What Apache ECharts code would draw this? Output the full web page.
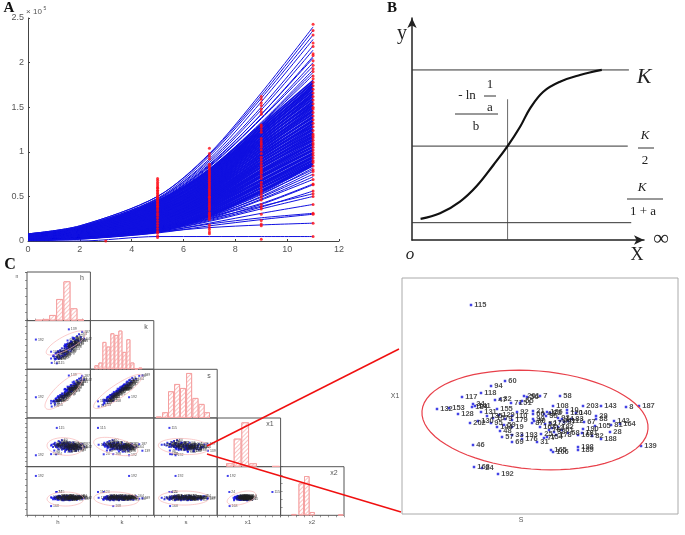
<!DOCTYPE html>
<html>
<head>
<meta charset="utf-8">
<script src="https://cdn.jsdelivr.net/npm/echarts@6/dist/echarts.min.js"></script>
<style>
html, body { margin: 0; padding: 0; background: #fff; }
#chart { width: 685px; height: 535px; }
#chart canvas { filter: blur(0.35px); }
</style>
</head>
<body>
<div id="chart"></div>
<script>
// Panel A: fitted growth curves, values x 10^5
var curveYears = [0, 2, 5, 7, 9, 11];
var growthCurves = [
    [.08,.17,.5,.98,1.66,2.4],[.08,.17,.5,.97,1.63,2.36],[.07,.16,.48,.95,1.6,2.31],[.08,.16,.47,.92,1.56,2.26],
    [.07,.16,.47,.9,1.5,2.19],[.07,.15,.46,.88,1.47,2.14],[.07,.15,.45,.86,1.42,2.07],[.07,.15,.44,.85,1.42,2.05],
    [.07,.15,.45,.84,1.38,2],[.07,.14,.43,.83,1.37,1.96],[.07,.14,.42,.81,1.33,1.92],[.07,.14,.43,.81,1.32,1.89],
    [.06,.14,.41,.8,1.31,1.86],
    [.07,.14,.45,.8,1.3,1.8],[.07,.14,.44,.79,1.27,1.78],[.06,.13,.43,.77,1.28,1.77],[.07,.13,.42,.78,1.25,1.75],
    [.06,.13,.44,.76,1.24,1.74],[.06,.13,.41,.75,1.25,1.72],[.07,.13,.42,.76,1.22,1.71],[.06,.12,.4,.74,1.21,1.69],
    [.06,.13,.41,.72,1.22,1.68],[.06,.12,.39,.73,1.19,1.66],[.05,.12,.4,.71,1.18,1.65],[.06,.12,.38,.7,1.19,1.63],
    [.06,.12,.39,.71,1.16,1.62],[.05,.11,.37,.69,1.15,1.6],[.06,.12,.38,.68,1.16,1.59],[.05,.11,.36,.69,1.13,1.57],
    [.05,.11,.37,.67,1.12,1.56],[.06,.11,.35,.66,1.13,1.54],[.05,.11,.36,.67,1.1,1.53],[.05,.1,.34,.65,1.09,1.52],
    [.05,.11,.35,.64,1.1,1.5],[.05,.1,.33,.63,1.07,1.49],[.05,.1,.34,.64,1.06,1.47],[.04,.1,.32,.62,1.07,1.46],
    [.05,.1,.33,.61,1.04,1.45],[.05,.09,.31,.62,1.03,1.43],[.04,.1,.32,.6,1.04,1.42],[.05,.09,.3,.59,1.01,1.4],
    [.04,.09,.31,.6,1,1.39],[.04,.09,.29,.58,1.01,1.38],[.05,.09,.3,.57,.98,1.36],[.04,.08,.28,.58,.97,1.35],
    [.04,.09,.29,.56,.98,1.34],[.04,.08,.27,.55,.95,1.32],[.04,.08,.28,.56,.94,1.31],[.03,.08,.26,.54,.95,1.29],
    [.04,.08,.27,.53,.92,1.28],[.04,.07,.25,.52,.91,1.26],[.03,.08,.26,.53,.92,1.25],[.04,.07,.24,.51,.89,1.24],
    [.03,.07,.25,.5,.88,1.22],[.03,.07,.23,.51,.89,1.21],[.04,.07,.24,.49,.86,1.2],[.03,.06,.22,.48,.85,1.18],
    [.03,.07,.23,.49,.86,1.17],[.03,.06,.21,.47,.83,1.16],[.03,.06,.22,.46,.82,1.14],[.03,.06,.2,.47,.83,1.13],
    [.03,.06,.21,.45,.8,1.12],[.02,.06,.19,.44,.79,1.1],[.03,.05,.2,.45,.78,1.09],[.03,.06,.18,.43,.77,1.08],
    [.02,.05,.19,.42,.76,1.06],[.03,.05,.17,.41,.74,1.05],[.02,.05,.18,.42,.73,1.03],[.02,.05,.16,.4,.72,1.02],
    [.03,.04,.17,.39,.71,1.01],[.02,.05,.15,.38,.69,.99],[.02,.04,.16,.39,.68,.98],[.02,.04,.14,.37,.67,.97],
    [.02,.04,.15,.36,.65,.95],[.02,.04,.13,.35,.64,.94],[.02,.04,.14,.34,.63,.93],[.02,.03,.13,.33,.62,.91],
    [.01,.03,.12,.32,.6,.9],[.02,.03,.12,.31,.59,.88],[.01,.03,.11,.3,.57,.87],[.02,.03,.11,.29,.56,.86],
    [.01,.03,.1,.28,.55,.85],
    [.01,.03,.15,.3,.54,.84],[.02,.03,.14,.29,.52,.82],[.01,.03,.13,.28,.53,.8],[.01,.03,.14,.27,.5,.78],
    [.01,.03,.13,.28,.49,.75],[.01,.03,.12,.26,.47,.72],[.01,.03,.12,.25,.46,.69],[.01,.03,.11,.27,.42,.64],
    [.01,.03,.12,.24,.41,.63],[.01,.03,.11,.23,.38,.56],[.01,.03,.12,.25,.39,.53],[.01,.03,.11,.22,.36,.5],
    [.01,.03,.1,.2,.31,.41],[.01,.03,.1,.19,.26,.31],[.01,.02,.09,.17,.24,.3],[.01,.02,.1,.15,.18,.2],
    [0,0,.05,.05,.05,.05]
];
// Panel A: observed values (red) per year
var obsYears = [5, 7, 9, 11];
var obsAt5 = [.04,.06,.09,.11,.14,.17,.2,.23,.26,.29,.31,.34,.36,.38,.39,.41,.42,.44,.45,.47,.48,.5,.51,.53,.54,.56,.57,.59,.6,.62,.64,.66,.68,.7];
var obsAt7 = [.08,.1,.13,.15,.18,.24,.26,.28,.3,.32,.35,.37,.39,.41,.43,.45,.47,.49,.5,.52,.54,.56,.58,.6,.62,.64,.66,.68,.7,.72,.74,.76,.78,.8,.82,.84,.86,.92,.95,.98,1.04];
var obsAt9 = [.02,.17,.19,.23,.3,.36,.38,.41,.46,.49,.52,.55,.57,.6,.63,.66,.7,.73,.76,.78,.8,.82,.85,.88,.91,.94,.98,1.02,1.05,1.08,1.1,1.12,1.15,1.22,1.25,1.28,1.3,1.42,1.45,1.48,1.52,1.55,1.59,1.62];
var obsAt11 = [.05,.2,.3,.31,.41,.5,.53,.56,.63,.64,.69,.74,.78,.8,.84,.88,.9,.93,.96,.99,1.02,1.05,1.08,1.1,1.13,1.16,1.18,1.2,1.24,1.28,1.32,1.36,1.4,1.44,1.48,1.5,1.54,1.58,1.62,1.66,1.7,1.74,1.78,1.82,1.85,1.9,1.93,1.97,2.02,2.08,2.1,2.18,2.22,2.31,2.36,2.43];
var obsExtra = [[3, 0]];

// Panel B: logistic sketch
var logisticX = [3.7, 12.1, 20.7, 27.9, 35.1, 41.2, 46.6, 50.9, 56.6, 63.8, 72.4, 81.8];
var logisticY = [9.5, 12, 17.3, 24.3, 33.8, 42.3, 51, 59.3, 66.8, 71.3, 74.3, 76.6];
var levelK = [[0, 76.6], [93.5, 76.6]];
var levelHalf = [[0, 42.3], [93, 42.3]];
var levelLow = [[0, 7.8], [94.5, 7.8]];
var inflection = [[41.2, 0], [41.2, 63.4]];

// Panel C: samples, [label, s, x1, h, k, x2]
var samples = [
    [94,89,128,50,30,37],[60,103,133,55,35,33],[118,79,121,52,27,39],[117,60,117,44,22,35],[47,93,114,58,31,31],
    [32,98,115,53,36,38],[201,122,118,64,38,34],[56,125,117,59,43,40],[7,138,118,68,44,36],[71,109,111,57,33,33],
    [51,118,111,62,41,37],[55,120,113,56,37,31],[132,35,105,39,13,36],[153,47,106,44,20,33],[141,73,108,48,24,38],
    [34,71,110,42,29,35],[184,70,107,50,21,32],[155,95,105,51,34,40],[131,79,102,47,25,34],[128,56,100,38,22,37],
    [92,115,102,60,34,36],[129,97,99,55,28,33],[110,110,98,52,39,38],[21,131,103,66,40,35],[66,131,100,61,45,32],
    [135,85,98,45,32,36],[157,91,96,57,26,39],[9,103,95,49,37,34],[179,110,94,63,32,37],[202,68,91,41,27,33],
    [130,76,93,53,23,35],[95,89,91,46,33,38],[99,131,95,69,37,36],[30,132,93,60,47,34],[87,130,91,64,42,39],
    [163,138,87,71,41,33],[19,110,87,54,36,37],[59,102,89,60,29,35],[144,95,87,48,35,32],[48,98,83,56,27,36],
    [57,100,77,50,33,40],[33,110,79,58,38,34],[193,120,79,65,35,37],[176,120,75,55,43,33],[69,110,72,61,31,38],
    [31,135,72,70,47,35],[46,71,69,43,26,37],[168,72,47,38,36,19],[24,80,46,46,21,48],[192,96,40,14,61,81],
    [115,69,209,47,12,48],[58,158,118,73,50,36],[108,151,108,65,53,33],[203,181,108,76,55,38],[143,199,108,74,64,35],
    [8,224,107,85,66,39],[187,237,108,87,77,34],[10,165,104,70,56,37],[140,174,101,78,52,36],[120,165,101,67,51,32],
    [186,145,102,72,47,35],[35,144,98,63,52,38],[29,194,98,80,60,36],[88,194,95,72,65,33],[67,182,92,76,58,37],
    [142,212,93,90,63,35],[164,218,90,82,72,39],[81,209,89,79,68,32],[105,193,88,84,57,36],[14,160,95,68,54,34],
    [112,166,93,75,49,38],[173,148,91,66,48,33],[182,156,87,71,55,40],[190,181,85,73,62,35],[28,208,82,86,61,37],
    [68,166,81,64,59,32],[181,180,81,78,53,38],[82,190,78,75,63,34],[188,199,75,81,58,36],[154,145,77,62,50,39],
    [178,154,79,74,46,34],[161,176,79,69,57,37],[139,239,68,66,82,35],[165,149,64,67,45,31],[106,151,62,60,51,36],
    [198,176,67,77,60,38],[189,176,64,70,54,33],[41,142,100,69,44,37],[72,148,101,61,49,35],[93,156,96,72,52,33],
    [27,162,92,65,47,39],[44,158,93,70,57,36],[83,170,95,74,51,34],[52,143,90,63,46,38],[12,150,86,68,53,32],
    [76,147,84,59,48,37],[38,152,82,66,43,35],[61,160,84,71,50,33],[25,139,80,64,42,39],[77,142,76,62,49,36]
];
var sampleColumn = { s: 1, x1: 2, h: 3, k: 4, x2: 5 };

// Histograms: bin centre, bar height (same units as the small panel scale)
var histH = { bins: [18.4,29.5,40.5,51.5,63,74,85], counts: [2,5,17,65,118,37,3], width: 7 };
var histK = { bins: [9.5,15.8,22.1,28.4,34.7,41,47.3,53.6,59.9,66.2,72.5,78.8], counts: [12,20,82,68,108,103,116,52,90,20,2,5], width: 4 };
var histS = { bins: [22,50,76,103,129,156,184,211,235], counts: [4,17,80,102,90,135,60,42,17], width: 6 };
var histX1 = { bins: [48,77,106,136,222], counts: [10,84,133,10,1], width: 7.7 };
var histX2 = { bins: [21,32.6,41.3,49.7,95], counts: [4,96,118,10,2], width: 5.5 };

// Ellipses: centre x,y then the two conjugate half axes, in data units
var ellipseHK = [61.5,54,30.8,21.6,-5.2,12.3];
var ellipseHS = [58.3,134,28.4,112,-9.5,37];
var ellipseKS = [43.4,134,37.9,106,-6.3,37];
var ellipseHX1 = [60,94,28.4,-6,0,54];
var ellipseKX1 = [40,94,34.7,-30,2.4,48];
var ellipseSX1 = [133,94,113,-9,3.8,49];
var ellipseHX2 = [60.7,33.5,29,0,0,14.4];
var ellipseKX2 = [41,33.5,35.5,-2,0,14.4];
var ellipseSX2 = [133,35.5,112,0,0,14.4];
var ellipseX1X2 = [92,35.5,54,8.2,-6,12];

var varNames = ['h', 'k', 's', 'x1', 'x2'];
var histByVar = { h: histH, k: histK, s: histS, x1: histX1, x2: histX2 };
var ellipseByPair = {
    'h/k': ellipseHK, 'h/s': ellipseHS, 'k/s': ellipseKS, 'h/x1': ellipseHX1, 'k/x1': ellipseKX1,
    's/x1': ellipseSX1, 'h/x2': ellipseHX2, 'k/x2': ellipseKX2, 's/x2': ellipseSX2, 'x1/x2': ellipseX1X2
};
var xRange = { h: [0, 100, 12.5], k: [0, 100, 12.5], s: [0, 280, 35], x1: [0, 240, 30], x2: [0, 100, 12.5] };
var yRange = { h: [0, 100, 12.5], k: [0, 100, 12.5], s: [-40, 280, 40], x1: [-30, 270, 30], x2: [0, 100, 12.5] };

var grids = [], xAxes = [], yAxes = [], series = [];

function addPanel(grid, xAxis, yAxis) {
    grids.push(grid);
    xAxis.gridIndex = grids.length - 1;
    yAxis.gridIndex = grids.length - 1;
    xAxes.push(xAxis);
    yAxes.push(yAxis);
    return grids.length - 1;
}

// Panel A
var axisA = { show: true, lineStyle: { color: '#444' } };
var labelA = { color: '#555', fontSize: 9, fontFamily: 'Liberation Sans', margin: 4 };
var gA = addPanel(
    { left: 28, top: 18, width: 311, height: 223 },
    { type: 'value', min: 0, max: 12, interval: 2, splitLine: { show: false }, axisLine: axisA,
      axisTick: { inside: true, length: 2, lineStyle: { color: '#444' } }, axisLabel: labelA },
    { type: 'value', min: 0, max: 2.5, interval: 0.5, splitLine: { show: false }, axisLine: axisA,
      axisTick: { inside: true, length: 2, lineStyle: { color: '#444' } }, axisLabel: labelA }
);
growthCurves.forEach(function (row, n) {
    var dense = n >= 13 && n < 82;
    series.push({
        type: 'line', xAxisIndex: gA, yAxisIndex: gA, smooth: 0.3, showSymbol: false, silent: true,
        lineStyle: { color: '#1010e0', width: dense ? 1.6 : 1 },
        data: row.map(function (v, i) { return [curveYears[i], v]; })
    });
});
var obsPoints = obsExtra.slice();
[obsAt5, obsAt7, obsAt9, obsAt11].forEach(function (list, i) {
    list.forEach(function (v) { obsPoints.push([obsYears[i], v]); });
});
series.push({ type: 'scatter', xAxisIndex: gA, yAxisIndex: gA, symbolSize: 3, clip: false, z: 5,
    itemStyle: { color: '#ff0a14' }, data: obsPoints });

// Panel B
var axisB = { show: true, symbol: ['none', 'arrow'], symbolSize: [7, 10], lineStyle: { color: '#222', width: 1.5 } };
var gB = addPanel(
    { left: 412, top: 18, width: 232, height: 222 },
    { type: 'value', min: 0, max: 100, splitLine: { show: false }, axisTick: { show: false }, axisLabel: { show: false }, axisLine: axisB },
    { type: 'value', min: 0, max: 100, splitLine: { show: false }, axisTick: { show: false }, axisLabel: { show: false }, axisLine: axisB }
);
[levelK, levelHalf, levelLow].forEach(function (line) {
    series.push({ type: 'line', xAxisIndex: gB, yAxisIndex: gB, showSymbol: false, silent: true,
        lineStyle: { color: '#333', width: 1 }, data: line });
});
series.push({ type: 'line', xAxisIndex: gB, yAxisIndex: gB, showSymbol: false, silent: true,
    lineStyle: { color: '#444', width: 0.8 }, data: inflection });
series.push({ type: 'line', xAxisIndex: gB, yAxisIndex: gB, smooth: 0.4, showSymbol: false, silent: true,
    lineStyle: { color: '#111', width: 2.2 },
    data: logisticX.map(function (x, i) { return [x, logisticY[i]]; }) });

// Panel C helpers
function renderEllipse(params, api) {
    var pts = [];
    for (var i = 0; i < 72; i++) {
        var t = i / 72 * Math.PI * 2;
        pts.push(api.coord([
            api.value(0) + Math.cos(t) * api.value(2) + Math.sin(t) * api.value(4),
            api.value(1) + Math.cos(t) * api.value(3) + Math.sin(t) * api.value(5)
        ]));
    }
    return { type: 'polygon', shape: { points: pts }, style: { fill: 'none', stroke: params.seriesName, lineWidth: params.seriesId === 'big' ? 1.2 : 0.7 } };
}
function ellipseSeries(idx, values, color, id) {
    return { type: 'custom', id: id, name: color, xAxisIndex: idx, yAxisIndex: idx, silent: true, z: 6,
        encode: { x: 0, y: 1 }, renderItem: renderEllipse, data: [values] };
}
function smallAxis(range, show, pos) {
    return { type: 'value', min: range[0], max: range[1], interval: range[2], position: pos, show: show,
        splitLine: { show: false }, axisLabel: { show: false }, axisLine: { show: false },
        axisTick: { show: show, length: 2, lineStyle: { color: '#555', width: 0.6 } } };
}

// Panel C: triangular matrix
var colX = [27, 90.4, 153.8, 217.2, 280.6];
var rowY = [272, 320.6, 369.3, 418, 466.7];
var CELL_W = 63.4, CELL_H = 48.6;

varNames.forEach(function (rowVar, i) {
    varNames.slice(0, i + 1).forEach(function (colVar, j) {
        var grid = { left: colX[j], top: rowY[i], width: CELL_W, height: CELL_H, show: true, borderColor: '#555', borderWidth: 1 };
        var xShow = i === 4 || i === 0;
        var xPos = i === 0 ? 'top' : 'bottom';
        if (i === j) {
            var hist = histByVar[rowVar];
            var yShow = i === 0 || i === 4;
            var idx = addPanel(grid, smallAxis(xRange[colVar], xShow, xPos),
                smallAxis([0, 146, 24.33], yShow, i === 4 ? 'right' : 'left'));
            series.push({ type: 'bar', xAxisIndex: idx, yAxisIndex: idx, barWidth: hist.width, silent: true,
                itemStyle: { color: '#fff', borderColor: '#f5a0a0', borderWidth: 1,
                    decal: { color: '#f8c4c4', backgroundColor: '#fff', symbol: 'rect', dashArrayX: [1, 0], dashArrayY: [1, 2], rotation: -Math.PI / 4 } },
                data: hist.bins.map(function (b, k) { return [b, hist.counts[k]]; }) });
        } else {
            var cellIdx = addPanel(grid, smallAxis(xRange[colVar], xShow, xPos), smallAxis(yRange[rowVar], j === 0, 'left'));
            var cx = sampleColumn[colVar], cy = sampleColumn[rowVar];
            series.push({ type: 'scatter', xAxisIndex: cellIdx, yAxisIndex: cellIdx, symbol: 'rect', symbolSize: 2, silent: true,
                itemStyle: { color: '#1010e8' },
                label: { show: true, position: 'right', distance: 1, fontSize: 3.5, color: '#222', fontFamily: 'Liberation Sans',
                    formatter: function (p) { return p.value[2]; } },
                data: samples.map(function (r) { return [r[cx], r[cy], r[0]]; }) });
            series.push(ellipseSeries(cellIdx, ellipseByPair[colVar + '/' + rowVar], '#f8b4b4', 'e' + i + j));
        }
    });
});

// Panel C: enlarged S / X1
var gBig = addPanel(
    { left: 402, top: 278, width: 276, height: 236, show: true, borderColor: '#aaa', borderWidth: 1 },
    { type: 'value', min: 0, max: 276, show: false, splitLine: { show: false } },
    { type: 'value', min: 0, max: 236, show: false, splitLine: { show: false } }
);
series.push({ type: 'scatter', xAxisIndex: gBig, yAxisIndex: gBig, symbol: 'rect', symbolSize: 2.5, silent: true,
    itemStyle: { color: '#1414e0' },
    label: { show: true, position: 'right', distance: 2, fontSize: 7.5, color: '#222', fontFamily: 'Liberation Sans',
        fontWeight: 'bold', formatter: function (p) { return p.value[2]; } },
    data: samples.map(function (r) { return [r[1], r[2], r[0]]; }) });
series.push(ellipseSeries(gBig, ellipseSX1, '#e8404a', 'big'));

// Texts and small drawing bits
function txt(x, y, text, size, extra) {
    var style = { x: x, y: y, text: text, fontSize: size, fontFamily: 'Liberation Serif', fill: '#222', textAlign: 'center', textVerticalAlign: 'middle' };
    for (var key in extra) style[key] = extra[key];
    return { type: 'text', silent: true, z: 20, style: style };
}
function rule(x1, y1, x2, y2, color, width) {
    return { type: 'line', silent: true, z: 20, shape: { x1: x1, y1: y1, x2: x2, y2: y2 }, style: { stroke: color, lineWidth: width } };
}
var sans = { fontFamily: 'Liberation Sans', fill: '#555' };
var graphics = [
    txt(9, 8, 'A', 15, { fontWeight: 'bold', fill: '#111' }),
    txt(392, 8, 'B', 15, { fontWeight: 'bold', fill: '#111' }),
    txt(10, 265, 'C', 16, { fontWeight: 'bold', fill: '#111' }),
    txt(34, 12, '× 10', 8, sans), txt(45, 9, '5', 5, sans),
    txt(402, 34, 'y', 20), txt(644, 77, 'K', 22, { fontStyle: 'italic' }),
    txt(645, 136, 'K', 13, { fontStyle: 'italic' }), rule(638, 148, 654, 148, '#333', 1), txt(645, 161, '2', 13),
    txt(642, 188, 'K', 13, { fontStyle: 'italic' }), rule(627, 199, 663, 199, '#333', 1), txt(643, 212, '1 + a', 13),
    txt(467, 96, '- ln', 13), txt(490, 85, '1', 13), rule(484, 96, 496, 96, '#333', 1), txt(490, 108, 'a', 13),
    rule(455, 114, 498, 114, '#333', 1), txt(476, 127, 'b', 13),
    txt(661, 239, '∞', 22), txt(637, 255, 'X', 18), txt(410, 255, 'o', 17, { fontStyle: 'italic' }),
    txt(395, 396, 'X1', 7, sans), txt(521, 520, 'S', 7, sans),
    txt(17, 277, 'n', 5, sans),
    txt(82, 278, 'h', 7, sans), txt(146, 327, 'k', 7, sans), txt(209, 376, 's', 7, sans), txt(270, 424, 'x1', 7, sans), txt(334, 473, 'x2', 7, sans),
    txt(58, 522, 'h', 6, sans), txt(122, 522, 'k', 6, sans), txt(186, 522, 's', 6, sans), txt(248, 522, 'x1', 6, sans), txt(312, 522, 'x2', 6, sans),
    rule(207, 446, 399, 349, '#f01010', 1.5),
    rule(207, 454, 401, 512, '#f01010', 1.5)
];

var myChart = echarts.init(document.getElementById('chart'), null, { renderer: 'canvas' });
myChart.setOption({
    animation: false,
    grid: grids,
    xAxis: xAxes,
    yAxis: yAxes,
    series: series,
    graphic: graphics
});
</script>
</body>
</html>
